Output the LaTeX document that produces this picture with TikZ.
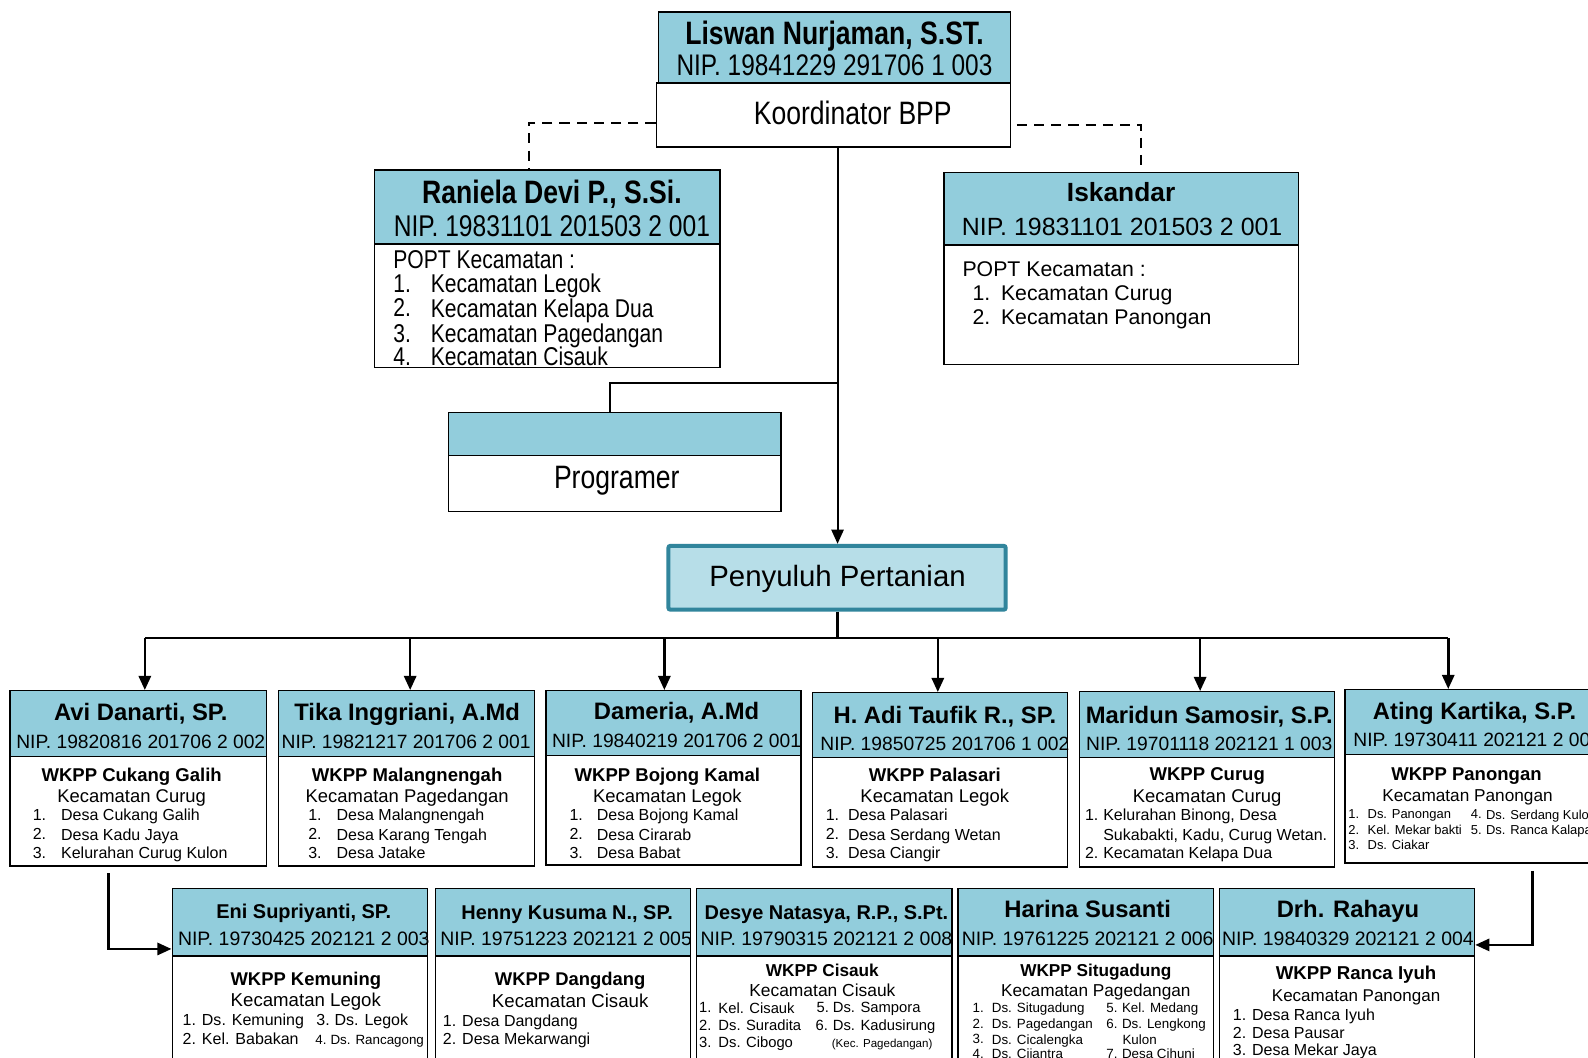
\documentclass[tikz,border=0pt]{standalone}
\usepackage{fontspec}
\setmainfont{Liberation Sans}
\newfontfamily\nar[FakeStretch=0.82]{Liberation Sans}
\usetikzlibrary{arrows.meta}
\definecolor{hdrblue}{HTML}{92CDDC}
\definecolor{penyfill}{HTML}{B7DEE8}
\definecolor{penyline}{HTML}{31859C}
\newcounter{tn}
\newcommand\F[1]{\fontsize{#1}{#1}\selectfont}
\newcommand\tx[5]{\stepcounter{tn}\node[inner sep=0pt,anchor=#1,font={#4}] (t\arabic{tn}) at (#2,{#3+2.5}) {#5\vphantom{Apg}};}
\newcommand\li[6]{\tx{west}{#1}{#3}{#4}{#5}\tx{west}{#2}{#3}{#4}{#6}}
\newcommand\bx[6]{\node[#2,minimum width={0.5pt*(#5-#3)},minimum height={0.5pt*(#6-#4)}] (#1) at ({(#3+#5)/2},{(#4+#6)/2}) {};}
\tikzset{
  hdr/.style={draw=black,line width=0.65pt,fill=hdrblue,inner sep=0pt},
  wbox/.style={draw=black,line width=0.65pt,fill=white,inner sep=0pt},
  pbox/.style={draw=penyline,line width=2pt,fill=penyfill,inner sep=0pt,rounded corners=1pt},
  conn/.style={line width=1pt,black},
  dashconn/.style={line width=1pt,black,dash pattern=on 5pt off 3.5pt},
  busline/.style={line width=1.3pt,black},
  arr/.style={line width=1pt,black,-{Triangle[width=6pt,length=7pt]}},
  barr/.style={line width=1.3pt,black,-{Triangle[width=6pt,length=7pt]}}
}
\begin{document}
\begin{tikzpicture}[x=0.5pt,y=-0.5pt]
\useasboundingbox (0,0) rectangle (1568,1044);
\fill[white] (0,0) rectangle (1568,1044);
\clip (0,0) rectangle (1568,1044);

% ---------- boxes ----------
\bx{liswh}{hdr}{650}{12}{998}{82}
\bx{koord}{wbox}{648}{82}{998}{145}
\bx{ranh}{hdr}{370}{168}{711}{241}
\bx{ranb}{wbox}{370}{241}{711}{363}
\bx{iskh}{hdr}{932}{170}{1282}{242}
\bx{iskb}{wbox}{932}{242}{1282}{360}
\bx{progh}{hdr}{443}{407}{771}{450}
\bx{progb}{wbox}{443}{450}{771}{505}
\bx{peny}{pbox}{660}{539}{993}{602}

\bx{h1}{hdr}{10}{682}{263}{747}
\bx{b1}{wbox}{10}{747}{263}{855}
\bx{h2}{hdr}{275}{682}{528}{747}
\bx{b2}{wbox}{275}{747}{528}{855}
\bx{h3}{hdr}{539}{682}{791}{746}
\bx{b3}{wbox}{539}{746}{791}{854}
\bx{h4}{hdr}{802}{684}{1054}{748}
\bx{b4}{wbox}{802}{748}{1054}{856}
\bx{h5}{hdr}{1066}{683}{1318}{748}
\bx{b5}{wbox}{1066}{748}{1318}{856}
\bx{h6}{hdr}{1328}{681}{1590}{745}
\bx{b6}{wbox}{1328}{745}{1590}{852}

\bx{g1}{hdr}{170}{877}{422}{944}
\bx{k1}{wbox}{170}{944}{422}{1070}
\bx{g2}{hdr}{430}{877}{682}{944}
\bx{k2}{wbox}{430}{944}{682}{1070}
\bx{g3}{hdr}{688}{877}{940}{944}
\bx{k3}{wbox}{688}{944}{940}{1070}
\bx{g4}{hdr}{946}{877}{1198}{944}
\bx{k4}{wbox}{946}{944}{1198}{1070}
\bx{g5}{hdr}{1204}{877}{1456}{944}
\bx{k5}{wbox}{1204}{944}{1456}{1070}

% ---------- connectors ----------
\coordinate (dL) at (522,121);
\coordinate (dR0) at (1004,123);
\coordinate (dR) at (1127,123);
\draw[dashconn] (koord.west |- dL) -- (dL) -- (dL |- ranh.north);
\draw[dashconn] (dR0) -- (dR) -- (dR |- iskh.north);
\coordinate (sp) at (827,378);
\coordinate (pj) at (602,378);
\draw[arr] (sp |- koord.south) -- (sp |- peny.north);
\draw[conn] (sp) -- (pj) -- (pj |- progh.north);
\coordinate (bus) at (827,630);
\draw[busline] (sp |- peny.south) -- (bus);
\coordinate (a1) at (143,630);
\coordinate (a2) at (405,630);
\coordinate (a3) at (656,630);
\coordinate (a4) at (926,630);
\coordinate (a5) at (1185,630);
\coordinate (a6) at (1430,630);
\draw[busline] (a1) -- (a6);
\foreach \i in {1,...,6} {\draw[barr] (a\i) -- (a\i |- h\i.north);}
\coordinate (e1) at (107,862);
\coordinate (e1b) at (107,937);
\draw[barr] (e1) -- (e1b) -- (e1b -| g1.west);
\coordinate (e2) at (1513,860);
\coordinate (e2b) at (1513,933);
\draw[barr] (e2) -- (e2b) -- (e2b -| g5.east);

% ---------- top texts ----------
\tx{center}{824}{33}{\nar\bfseries\F{16}}{Liswan Nurjaman, S.ST.}
\tx{center}{824}{65}{\nar\F{14.7}}{NIP. 19841229 291706 1 003}
\tx{center}{842}{112}{\nar\F{16}}{Koordinator BPP}

\tx{center}{545}{190}{\nar\bfseries\F{16}}{Raniela Devi P., S.Si.}
\tx{center}{545}{224}{\nar\F{14.8}}{NIP. 19831101 201503 2 001}
\tx{west}{388}{256}{\nar\F{12.7}}{POPT Kecamatan :}
\li{388}{425}{280}{\nar\F{12.7}}{1.}{Kecamatan Legok}
\li{388}{425}{304}{\nar\F{12.7}}{2.}{Kecamatan Kelapa Dua}
\li{388}{425}{329}{\nar\F{12.7}}{3.}{Kecamatan Pagedangan}
\li{388}{425}{352}{\nar\F{12.7}}{4.}{Kecamatan Cisauk}

\tx{center}{1107}{190}{\bfseries\F{13}}{Iskandar}
\tx{center}{1108}{224}{\F{12.3}}{NIP. 19831101 201503 2 001}
\tx{west}{950}{265}{\F{10.5}}{POPT Kecamatan :}
\li{960}{988}{289}{\F{10.5}}{1.}{Kecamatan Curug}
\li{960}{988}{313}{\F{10.5}}{2.}{Kecamatan Panongan}

\tx{center}{609}{472}{\nar\F{16}}{Programer}
\tx{center}{827}{569}{\F{14.5}}{Penyuluh Pertanian}

% ---------- row 1 ----------
\tx{center}{139}{703}{\bfseries\F{11.75}}{Avi Danarti, SP.}
\tx{center}{139}{732}{\F{9.5}}{NIP. 19820816 201706 2 002}
\tx{center}{130}{764}{\bfseries\F{9.15}}{WKPP Cukang Galih}
\tx{center}{130}{785}{\F{9.1}}{Kecamatan Curug}
\li{32}{60}{804}{\F{7.9}}{1.}{Desa Cukang Galih}
\li{32}{60}{823}{\F{7.9}}{2.}{Desa Kadu Jaya}
\li{32}{60}{841}{\F{7.9}}{3.}{Kelurahan Curug Kulon}

\tx{center}{402}{703}{\bfseries\F{11.75}}{Tika Inggriani, A.Md}
\tx{center}{401}{732}{\F{9.5}}{NIP. 19821217 201706 2 001}
\tx{center}{402}{764}{\bfseries\F{9.15}}{WKPP Malangnengah}
\tx{center}{402}{785}{\F{9.1}}{Kecamatan Pagedangan}
\li{304}{332}{804}{\F{7.9}}{1.}{Desa Malangnengah}
\li{304}{332}{823}{\F{7.9}}{2.}{Desa Karang Tengah}
\li{304}{332}{841}{\F{7.9}}{3.}{Desa Jatake}

\tx{center}{668}{702}{\bfseries\F{11.75}}{Dameria, A.Md}
\tx{center}{668}{731}{\F{9.5}}{NIP. 19840219 201706 2 001}
\tx{center}{659}{764}{\bfseries\F{9.15}}{WKPP Bojong Kamal}
\tx{center}{659}{785}{\F{9.1}}{Kecamatan Legok}
\li{562}{589}{804}{\F{7.9}}{1.}{Desa Bojong Kamal}
\li{562}{589}{823}{\F{7.9}}{2.}{Desa Cirarab}
\li{562}{589}{841}{\F{7.9}}{3.}{Desa Babat}

\tx{center}{933}{706}{\bfseries\F{11.75}}{H. Adi Taufik R., SP.}
\tx{center}{933}{734}{\F{9.5}}{NIP. 19850725 201706 1 002}
\tx{center}{923}{764}{\bfseries\F{9.15}}{WKPP Palasari}
\tx{center}{923}{785}{\F{9.1}}{Kecamatan Legok}
\li{815}{837}{804}{\F{7.9}}{1.}{Desa Palasari}
\li{815}{837}{823}{\F{7.9}}{2.}{Desa Serdang Wetan}
\li{815}{837}{841}{\F{7.9}}{3.}{Desa Ciangir}

\tx{center}{1194}{706}{\bfseries\F{11.75}}{Maridun Samosir, S.P.}
\tx{center}{1194}{734}{\F{9.5}}{NIP. 19701118 202121 1 003}
\tx{center}{1192}{764}{\bfseries\F{9.15}}{WKPP Curug}
\tx{center}{1192}{785}{\F{9.1}}{Kecamatan Curug}
\li{1071}{1089}{804}{\F{7.9}}{1.}{Kelurahan Binong, Desa}
\tx{west}{1089}{823}{\F{7.9}}{Sukabakti, Kadu, Curug Wetan.}
\li{1071}{1089}{841}{\F{7.9}}{2.}{Kecamatan Kelapa Dua}

\tx{center}{1456}{702}{\bfseries\F{11.75}}{Ating Kartika, S.P.}
\tx{west}{1336}{730}{\F{9.5}}{NIP. 19730411 202121 2 005}
\tx{center}{1448}{764}{\bfseries\F{9.15}}{WKPP Panongan}
\tx{center}{1449}{785}{\F{8.5}}{Kecamatan Panongan}
\li{1331}{1350}{803}{\F{6.4}}{1.}{Ds. Panongan}
\li{1331}{1350}{818}{\F{6.4}}{2.}{Kel. Mekar bakti}
\li{1331}{1350}{833}{\F{6.4}}{3.}{Ds. Ciakar}
\li{1452}{1467}{803}{\F{6.4}}{4.}{Ds. Serdang Kulon}
\li{1452}{1467}{818}{\F{6.4}}{5.}{Ds. Ranca Kalapa}

% ---------- row 2 ----------
\tx{center}{300}{899}{\bfseries\F{9.85}}{Eni Supriyanti, SP.}
\tx{center}{300}{926}{\F{9.6}}{NIP. 19730425 202121 2 003}
\tx{center}{302}{966}{\bfseries\F{9.1}}{WKPP Kemuning}
\tx{center}{302}{987}{\F{9.2}}{Kecamatan Legok}
\li{180}{199}{1006}{\F{7.9}}{1.}{Ds. Kemuning}
\li{312}{330}{1006}{\F{7.9}}{3.}{Ds. Legok}
\li{180}{199}{1025}{\F{7.9}}{2.}{Kel. Babakan}
\li{311}{326}{1026}{\F{6.6}}{4.}{Ds. Rancagong}

\tx{center}{560}{901}{\bfseries\F{9.85}}{Henny Kusuma N., SP.}
\tx{center}{559}{926}{\F{9.6}}{NIP. 19751223 202121 2 005}
\tx{center}{563}{966}{\bfseries\F{9.1}}{WKPP Dangdang}
\tx{center}{563}{988}{\F{9.2}}{Kecamatan Cisauk}
\li{437}{456}{1007}{\F{7.9}}{1.}{Desa Dangdang}
\li{437}{456}{1025}{\F{7.9}}{2.}{Desa Mekarwangi}

\tx{center}{816}{901}{\bfseries\F{9.85}}{Desye Natasya, R.P., S.Pt.}
\tx{center}{816}{926}{\F{9.6}}{NIP. 19790315 202121 2 008}
\tx{center}{812}{957}{\bfseries\F{8.5}}{WKPP Cisauk}
\tx{center}{812}{977}{\F{8.6}}{Kecamatan Cisauk}
\li{690}{709}{994}{\F{7.3}}{1.}{Kel. Cisauk}
\li{806}{822}{994}{\F{7.3}}{5.}{Ds. Sampora}
\li{690}{709}{1011}{\F{7.3}}{2.}{Ds. Suradita}
\li{805}{822}{1011}{\F{7.3}}{6.}{Ds. Kadusirung}
\li{690}{709}{1028.5}{\F{7.3}}{3.}{Ds. Cibogo}
\tx{west}{821}{1029}{\F{5.7}}{(Kec. Pagedangan)}

\tx{center}{1074}{897}{\bfseries\F{11.75}}{Harina Susanti}
\tx{center}{1074}{926}{\F{9.6}}{NIP. 19761225 202121 2 006}
\tx{center}{1082}{957}{\bfseries\F{8.5}}{WKPP Situgadung}
\tx{center}{1082}{977}{\F{8.5}}{Kecamatan Pagedangan}
\li{960}{979}{994}{\F{6.6}}{1.}{Ds. Situgadung}
\li{960}{979}{1010}{\F{6.6}}{2.}{Ds. Pagedangan}
\li{960}{979}{1025}{\F{6.6}}{3.}{Ds. Cicalengka}
\li{960}{979}{1039}{\F{6.6}}{4.}{Ds. Cijantra}
\li{1092}{1107.5}{994}{\F{6.6}}{5.}{Kel. Medang}
\li{1092}{1107.5}{1010}{\F{6.6}}{6.}{Ds. Lengkong}
\tx{west}{1108}{1025}{\F{6.6}}{Kulon}
\li{1092}{1107.5}{1039}{\F{6.6}}{7.}{Desa Cihuni}

\tx{center}{1331}{897}{\bfseries\F{11.75}}{Drh. Rahayu}
\tx{center}{1331}{926}{\F{9.6}}{NIP. 19840329 202121 2 004}
\tx{center}{1339}{960}{\bfseries\F{9.2}}{WKPP Ranca Iyuh}
\tx{center}{1339}{982}{\F{8.4}}{Kecamatan Panongan}
\li{1217}{1236}{1001}{\F{7.9}}{1.}{Desa Ranca Iyuh}
\li{1217}{1236}{1019}{\F{7.9}}{2.}{Desa Pausar}
\li{1217}{1236}{1036}{\F{7.9}}{3.}{Desa Mekar Jaya}
\end{tikzpicture}
\end{document}
